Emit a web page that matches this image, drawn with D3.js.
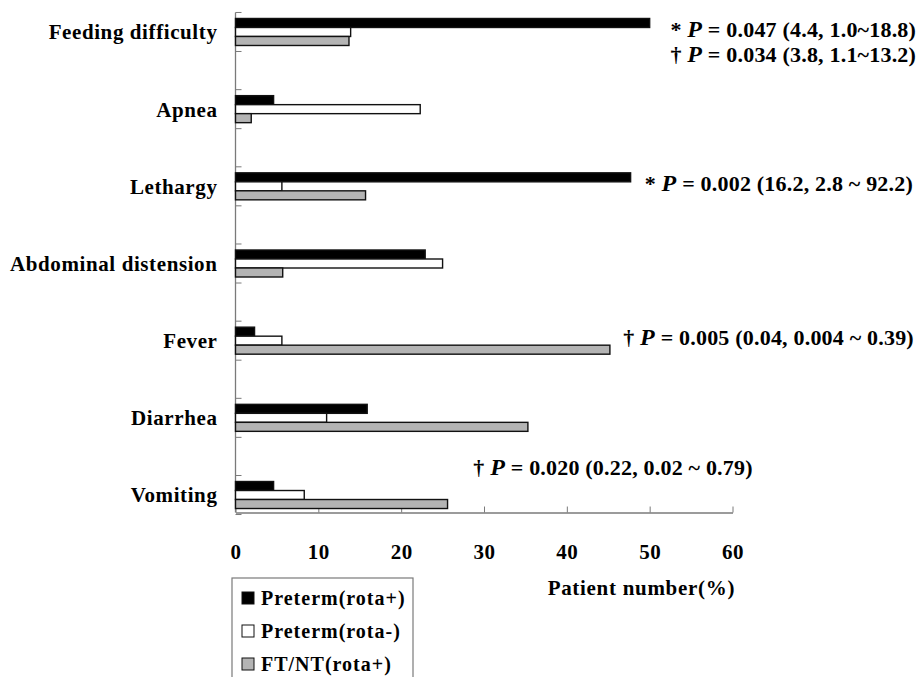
<!DOCTYPE html>
<html>
<head>
<meta charset="utf-8">
<script src="https://cdn.jsdelivr.net/npm/d3@7"></script>
<style>
  body { margin: 0; background: #fff; }
  text { font-family: "Liberation Serif", "Times New Roman", serif; font-weight: bold; fill: #000; }
</style>
</head>
<body>
<div id="chart"></div>
<script>
// Data
const categories = ["Feeding difficulty", "Apnea", "Lethargy", "Abdominal distension", "Fever", "Diarrhea", "Vomiting"]
const seriesNames = ["Preterm(rota+)", "Preterm(rota-)", "FT/NT(rota+)"]
const pretermPos = [50.0, 4.6, 47.7, 22.9, 2.3, 15.9, 4.6]
const pretermNeg = [13.9, 22.3, 5.6, 25.0, 5.6, 11.0, 8.3]
const fullTermPos = [13.7, 1.9, 15.7, 5.7, 45.2, 35.3, 25.6]
const xTicks = [0, 10, 20, 30, 40, 50, 60]

// annotations: category, x position in data units, line offset, text parts
const notes = [
  { cat: "Feeding difficulty", at: 52.5, line: 0, mark: "*", rest: "0.047 (4.4, 1.0~18.8)" },
  { cat: "Feeding difficulty", at: 52.5, line: 1, mark: "\u2020", rest: "0.034 (3.8, 1.1~13.2)" },
  { cat: "Lethargy", at: 49.4, line: 0, mark: "*", rest: "0.002 (16.2, 2.8 ~ 92.2)" },
  { cat: "Fever", at: 46.8, line: 0, mark: "\u2020", rest: "0.005 (0.04, 0.004 ~ 0.39)" },
  { cat: "Vomiting", at: 28.7, line: -1, mark: "\u2020", rest: "0.020 (0.22, 0.02 ~ 0.79)" }
]

const W = 921, H = 677
const svg = d3.select("#chart").append("svg").attr("width", W).attr("height", H)

// Scales
const xscale = d3.scaleLinear().domain([0, 60]).range([235.5, 732.5])
const yscale = d3.scaleBand().domain(categories).range([-6.6, 533.6]).paddingInner(0.65).paddingOuter(0.325)
const sub = d3.scaleBand().domain(seriesNames).range([0, yscale.bandwidth()])
const fills = { "Preterm(rota+)": "#000", "Preterm(rota-)": "#fff", "FT/NT(rota+)": "#b4b4b4" }

const rows = categories.map((c, i) => ({
  cat: c,
  vals: [pretermPos[i], pretermNeg[i], fullTermPos[i]]
}))

const axisTop = yscale(categories[0]) - 6
const axisBottom = yscale(categories[categories.length - 1]) + yscale.bandwidth() + 4

// X axis
const xaxis = d3.axisBottom(xscale).tickValues(xTicks).tickSizeInner(-6).tickSizeOuter(0).tickPadding(32)
const gx = svg.append("g").attr("transform", `translate(0,${axisBottom})`).call(xaxis)
gx.attr("font-family", null).attr("font-size", null)
gx.select(".domain").attr("stroke", "#7a7a7a").attr("stroke-width", 1.3)
gx.selectAll(".tick line").attr("stroke", "#7a7a7a")
gx.selectAll(".tick text").style("font-size", "21px").style("letter-spacing", "0.5px")

// Y axis line + ticks
const gy = svg.append("g")
gy.append("line")
  .attr("x1", xscale(0)).attr("x2", xscale(0))
  .attr("y1", axisTop).attr("y2", axisBottom)
  .attr("stroke", "#7a7a7a").attr("stroke-width", 1.3)
const tickYs = []
categories.forEach(c => {
  tickYs.push(yscale(c) - 6)
  tickYs.push(yscale(c) + yscale.bandwidth() + 6)
})
gy.selectAll("line.tk").data(tickYs).join("line")
  .attr("class", "tk")
  .attr("x1", xscale(0)).attr("x2", xscale(0) + 6)
  .attr("y1", d => d).attr("y2", d => d)
  .attr("stroke", "#7a7a7a")

// Category labels
svg.selectAll("text.cat").data(categories).join("text")
  .attr("class", "cat")
  .attr("x", xscale(0) - 18)
  .attr("y", d => yscale(d) + yscale.bandwidth() / 2)
  .attr("dy", "0.35em")
  .attr("text-anchor", "end")
  .style("font-size", "21px")
  .style("letter-spacing", "0.6px")
  .text(d => d)

// Bars
const groups = svg.selectAll("g.grp").data(rows).join("g")
  .attr("class", "grp")
  .attr("transform", d => `translate(0,${yscale(d.cat)})`)
groups.selectAll("rect")
  .data(d => d.vals.map((v, i) => ({ name: seriesNames[i], v })))
  .join("rect")
  .attr("x", xscale(0))
  .attr("y", d => sub(d.name))
  .attr("width", d => xscale(d.v) - xscale(0))
  .attr("height", sub.bandwidth())
  .attr("fill", d => fills[d.name])
  .attr("stroke", "#111")
  .attr("stroke-width", 1.4)

// Annotations
notes.forEach(n => {
  const y = yscale(n.cat) + yscale.bandwidth() / 2 - 3 + n.line * 25
  const t = svg.append("text")
    .attr("x", xscale(n.at))
    .attr("y", y)
    .attr("dy", "0.35em")
    .style("font-size", "22px")
    .style("letter-spacing", "0.2px")
  t.append("tspan").text(n.mark + " ")
  t.append("tspan").attr("font-style", "italic").style("font-size", "24px").text("P")
  t.append("tspan").text(" = " + n.rest)
})

// Axis title
svg.append("text")
  .attr("x", xscale(49))
  .attr("y", axisBottom + 82)
  .attr("text-anchor", "middle")
  .style("font-size", "21px")
  .style("letter-spacing", "0.7px")
  .text("Patient number(%)")

// Legend
const legend = svg.append("g").attr("transform", "translate(232,578)")
legend.append("rect")
  .attr("width", 181).attr("height", 110)
  .attr("fill", "#fff").attr("stroke", "#7a7a7a").attr("stroke-width", 1.2)
const items = legend.selectAll("g.item").data(seriesNames).join("g")
  .attr("class", "item")
  .attr("transform", (d, i) => `translate(10,${20 + i * 33})`)
items.append("rect")
  .attr("x", 0).attr("y", -6)
  .attr("width", 12).attr("height", 12)
  .attr("fill", d => fills[d])
  .attr("stroke", "#111").attr("stroke-width", 1)
items.append("text")
  .attr("x", 19).attr("dy", "0.35em")
  .style("font-size", "20px")
  .style("letter-spacing", "1px")
  .text(d => d)
</script>
</body>
</html>
